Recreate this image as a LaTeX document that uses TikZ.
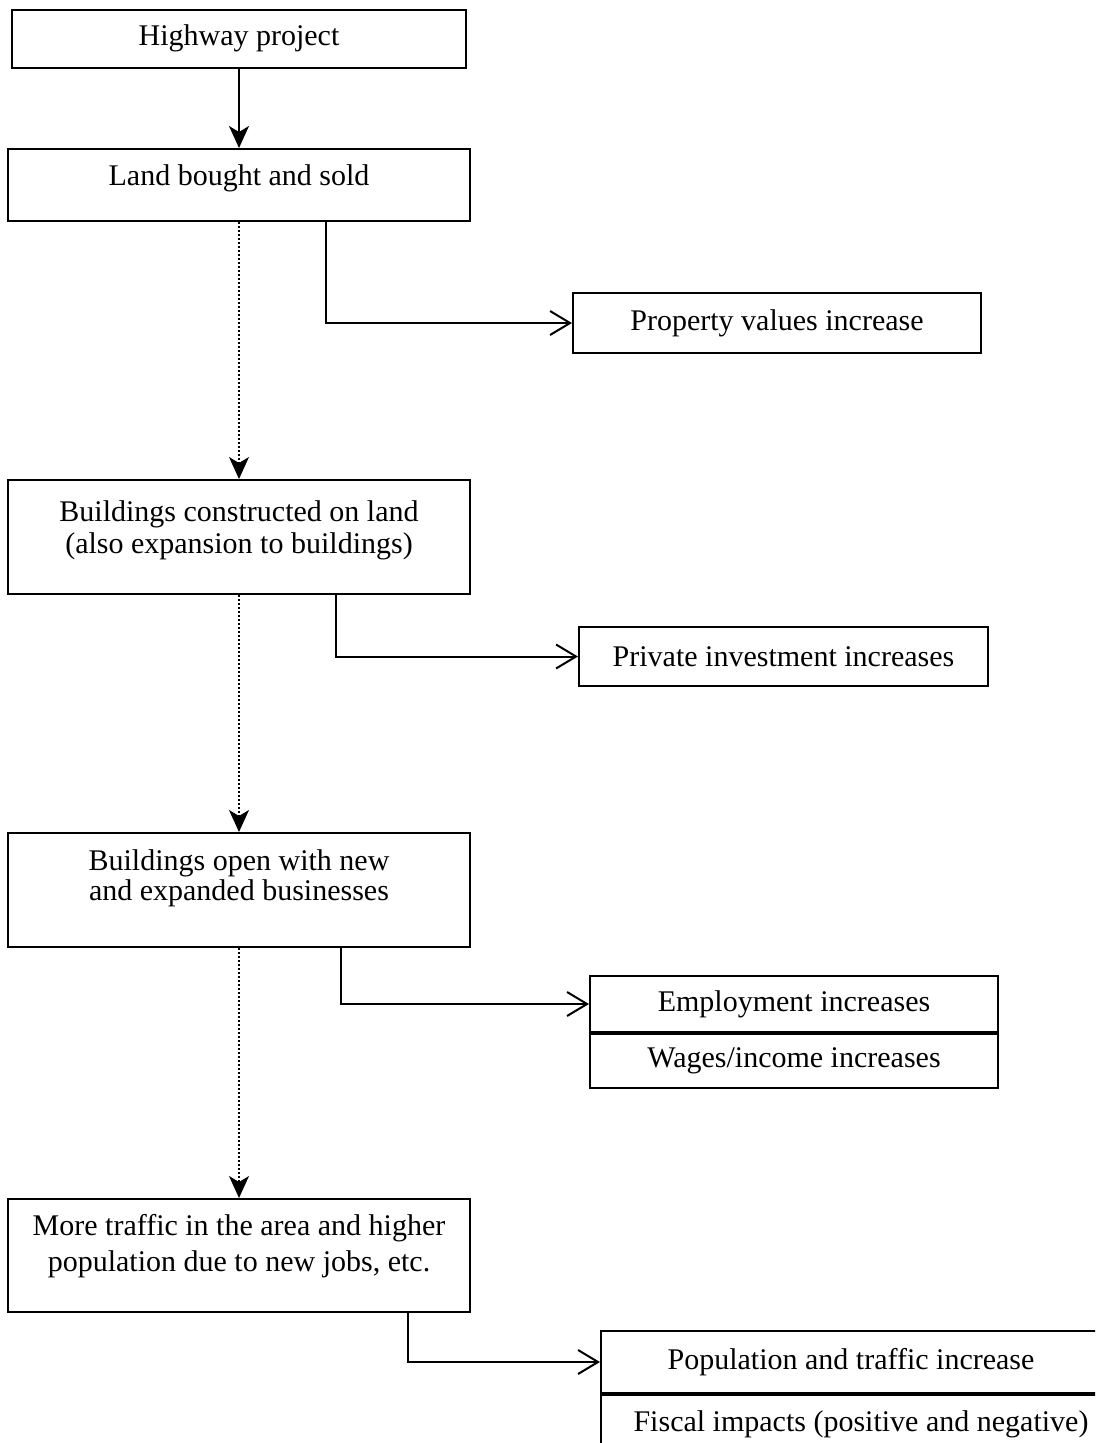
\documentclass[tikz,border=0pt]{standalone}
\usepackage{fontspec}
\setmainfont{Liberation Serif}
\usetikzlibrary{arrows.meta}

\tikzset{
  stepbox/.style={draw, line width=2pt, inner sep=0pt, align=center, anchor=north},
  sidebox/.style={draw, line width=2pt, inner sep=0pt, anchor=north west},
  mainarrow/.style={line width=2pt, -{Stealth[length=22pt,width=20pt,inset=6pt]}},
  dotarrow/.style={line width=1.5pt, dash pattern=on 2pt off 2pt, -{Stealth[length=22pt,width=20pt,inset=6pt]}},
  sidearrow/.style={line width=2pt, -{Straight Barb[length=20pt,width=24pt]}},
}

\begin{document}
\begin{tikzpicture}[x=1pt, y=-1pt, font=\fontsize{30}{33}\selectfont, line join=miter]
			\clip (0,0) rectangle (1095,1443);
			
			% 1. Main chain of steps (left column)
			\node[stepbox, minimum width=454pt, text height=35pt, text depth=23pt] (hwy) at (239,9) {Highway project};
			\node[stepbox, minimum width=462pt, text height=36pt, text depth=36pt] (land) at (239,148) {Land bought and sold};
			\node[stepbox, minimum width=462pt, text height=73pt, text depth=41pt] (build) at (239,479) {Buildings constructed on land\\[-1pt](also expansion to buildings)};
			\node[stepbox, minimum width=462pt, text height=67pt, text depth=47pt] (open) at (239,832) {Buildings open with new\\[-3pt]and expanded businesses};
			\node[stepbox, minimum width=462pt, text height=72pt, text depth=41pt] (traffic) at (239,1198) {More traffic in the area and higher\\[3pt]population due to new jobs, etc.};
			
			% 2. Effects (right column)
			\node[sidebox, minimum width=408pt, minimum height=60pt] (prop) at (572,292) {Property values increase};
			\node[sidebox, minimum width=409pt, minimum height=59pt] (invest) at (578,626) {Private investment increases};
			\node[sidebox, minimum width=408pt, minimum height=56pt] (employ) at (589,975) {Employment increases};
			\node[sidebox, minimum width=408pt, minimum height=54pt] (wages) at (employ.south west) {Wages/income increases};
			\node[sidebox, minimum width=500pt, minimum height=62pt] (popul) at (600,1330) {Population and traffic increase};
			\node[sidebox, minimum width=520pt, minimum height=58pt] (fiscal) at (popul.south west) {Fiscal impacts (positive and negative)};
			
			% 3. Arrows down the chain
			\draw[mainarrow] (hwy.south) -- (land.north);
			\foreach \a/\b in {land/build, build/open, open/traffic}
				\draw[dotarrow] (\a.south) -- (\b.north);
			
			% 4. Arrows out to the effects
			\foreach \a/\b/\s in {land/prop/87, build/invest/97, open/employ/102, traffic/popul/169}
				\draw[sidearrow] ([xshift=\s pt]\a.south) |- (\b.west);
\end{tikzpicture}
\end{document}
